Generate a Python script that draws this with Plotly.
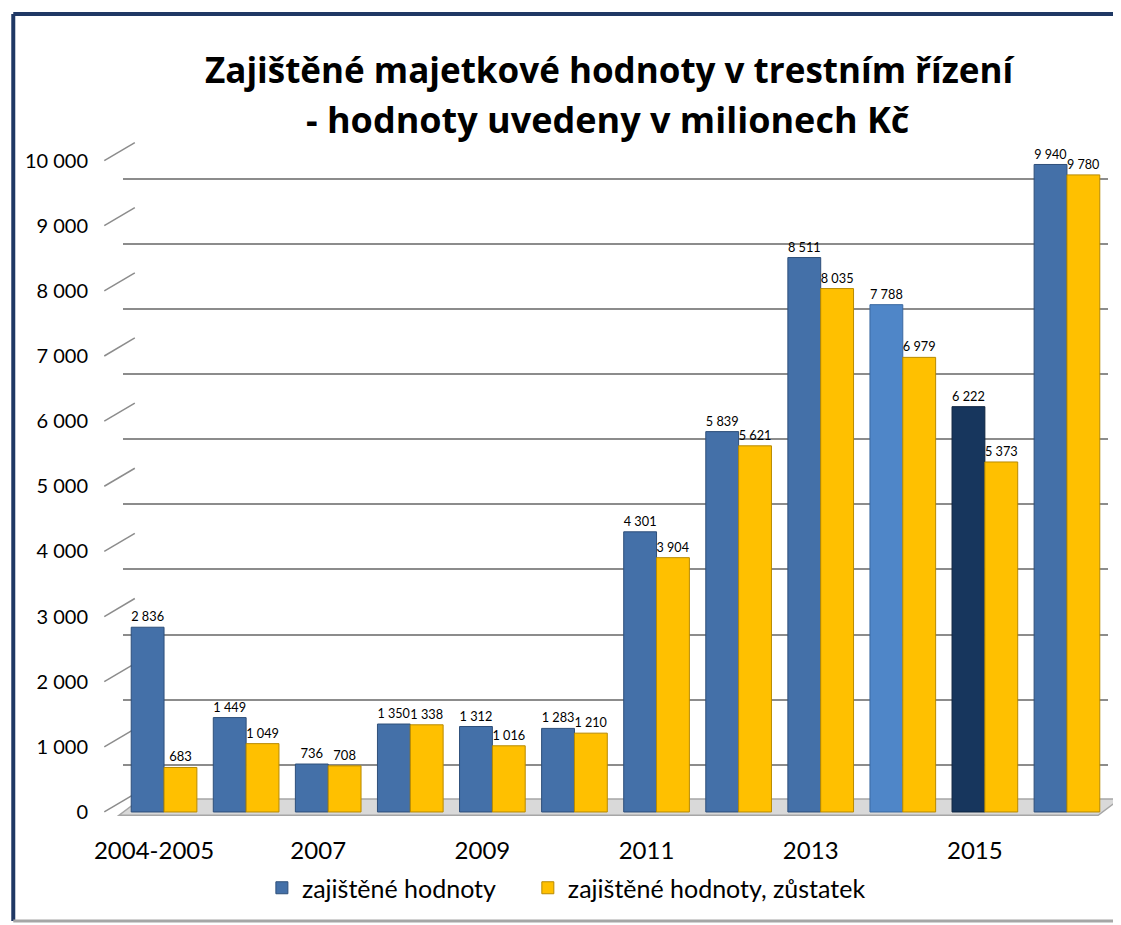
import plotly.graph_objects as go

categories = ["2004-2005", "2006", "2007", "2008", "2009", "2010",
              "2011", "2012", "2013", "2014", "2015", "2016"]
zajistene = [2836, 1449, 736, 1350, 1312, 1283, 4301, 5839, 8511, 7788, 6222, 9940]
zustatek = [683, 1049, 708, 1338, 1016, 1210, 3904, 5621, 8035, 6979, 5373, 9780]
x_tick_labels = ["2004-2005", "2007", "2009", "2011", "2013", "2015"]
y_ticks = [0, 1000, 2000, 3000, 4000, 5000, 6000, 7000, 8000, 9000, 10000]

series_names = ["zajištěné hodnoty", "zajištěné hodnoty, zůstatek"]
title_lines = ["Zajištěné majetkové hodnoty v trestním řízení",
               "- hodnoty uvedeny v milionech Kč"]

# styles
BLUE = "#4470A8"
blue_colors = [BLUE] * 9 + ["#4F86C8", "#17365D", BLUE]
blue_lines = ["#2E4F7A"] * 9 + ["#3A68A0", "#0E2440", "#2E4F7A"]
YELLOW = "#FFC000"
WALL_SHIFT = 277  # back-wall offset of gridlines (value units)


def fmt(v):
    return f"{v:,}".replace(",", " ")


fig = go.Figure()
fig.add_trace(go.Bar(
    x=categories, y=zajistene, name=series_names[0], legend="legend",
    marker=dict(color=blue_colors, line=dict(color=blue_lines, width=1)),
    text=[fmt(v) for v in zajistene], textposition="outside",
    textfont=dict(family="Lato", size=13, color="black"),
    cliponaxis=False,
))
fig.add_trace(go.Bar(
    x=categories, y=zustatek, name=series_names[1], legend="legend2",
    marker=dict(color=YELLOW, line=dict(color="#B88A00", width=1)),
    text=[fmt(v) for v in zustatek], textposition="outside",
    textfont=dict(family="Lato", size=13, color="black"),
    cliponaxis=False,
))
# invisible trace to anchor the back-wall gridline axis
fig.add_trace(go.Scatter(x=[categories[0]], y=[None], yaxis="y2",
                         showlegend=False, hoverinfo="skip", mode="markers"))

# floor slab and chart frame
shapes = [
    dict(type="path", xref="paper", yref="y", layer="below",
         path="M -0.004,-50 L 0.99,-50 L 1.012,200 L 0.018,200 Z",
         fillcolor="#D9D9D9", line=dict(color="#A6A6A6", width=1.5)),
    dict(type="line", xref="paper", yref="paper", x0=-0.1114, x1=1.05, y0=1.1636, y1=1.1636,
         line=dict(color="#1F3864", width=4)),
    dict(type="line", xref="paper", yref="paper", x0=-0.1114, x1=-0.1114, y0=1.1636, y1=-0.1377,
         line=dict(color="#1F3864", width=4)),
    dict(type="line", xref="paper", yref="paper", x0=-0.1114, x1=1.05, y0=-0.1377, y1=-0.1377,
         line=dict(color="#A6A6A6", width=3)),
]
# diagonal connectors from the front axis to the back-wall gridlines
for v in y_ticks:
    shapes.append(dict(type="line", xref="paper", yref="y", layer="below",
                       x0=-0.019, x1=0.012, y0=v, y1=v + WALL_SHIFT,
                       line=dict(color="#8C8C8C", width=1.5)))

annotations = [
    dict(text=f"<b>{title_lines[0]}</b>", xref="paper", yref="paper", x=0.494, y=1.0846,
         showarrow=False, xanchor="center", yanchor="middle",
         font=dict(family="Open Sans", size=35, color="black")),
    dict(text=f"<b>{title_lines[1]}</b>", xref="paper", yref="paper", x=0.4924, y=1.0129,
         showarrow=False, xanchor="center", yanchor="middle",
         font=dict(family="Open Sans", size=36, color="black")),
]

legend_style = dict(orientation="h", yanchor="middle", xanchor="left",
                    font=dict(family="Lato", size=25, color="black"),
                    bgcolor="rgba(0,0,0,0)", itemwidth=30)

fig.update_layout(
    width=1121, height=925,
    margin=dict(l=115, r=21, t=120, b=108),
    paper_bgcolor="white", plot_bgcolor="white",
    barmode="group", bargap=0.2, bargroupgap=0.0,
    showlegend=True,
    legend=dict(x=0.141, y=-0.0904, **legend_style),
    legend2=dict(x=0.411, y=-0.0904, **legend_style),
    xaxis=dict(
        range=[-0.5, len(categories) - 0.5], automargin=False,
        tickmode="array", tickvals=x_tick_labels, ticktext=x_tick_labels,
        tickfont=dict(family="Lato", size=24, color="black"),
        ticks="outside", ticklen=4, tickcolor="rgba(0,0,0,0)",
        ticklabelshift=-10,
        showline=False, showgrid=False, zeroline=False,
    ),
    yaxis=dict(
        range=[-200, 10500], automargin=False,
        tickmode="array", tickvals=y_ticks, ticktext=[fmt(v) for v in y_ticks],
        tickfont=dict(family="Lato", size=20, color="black"),
        ticks="outside", ticklen=30, tickcolor="rgba(0,0,0,0)",
        showgrid=False, zeroline=False, showline=False,
    ),
    yaxis2=dict(
        overlaying="y", range=[-200 + WALL_SHIFT, 10500 + WALL_SHIFT], automargin=False,
        tickmode="array", tickvals=y_ticks, showticklabels=False,
        showgrid=True, gridcolor="#8C8C8C", gridwidth=2,
        zeroline=False, showline=False,
    ),
    shapes=shapes,
    annotations=annotations,
    font=dict(family="Lato"),
)

fig.write_html("out.html")
